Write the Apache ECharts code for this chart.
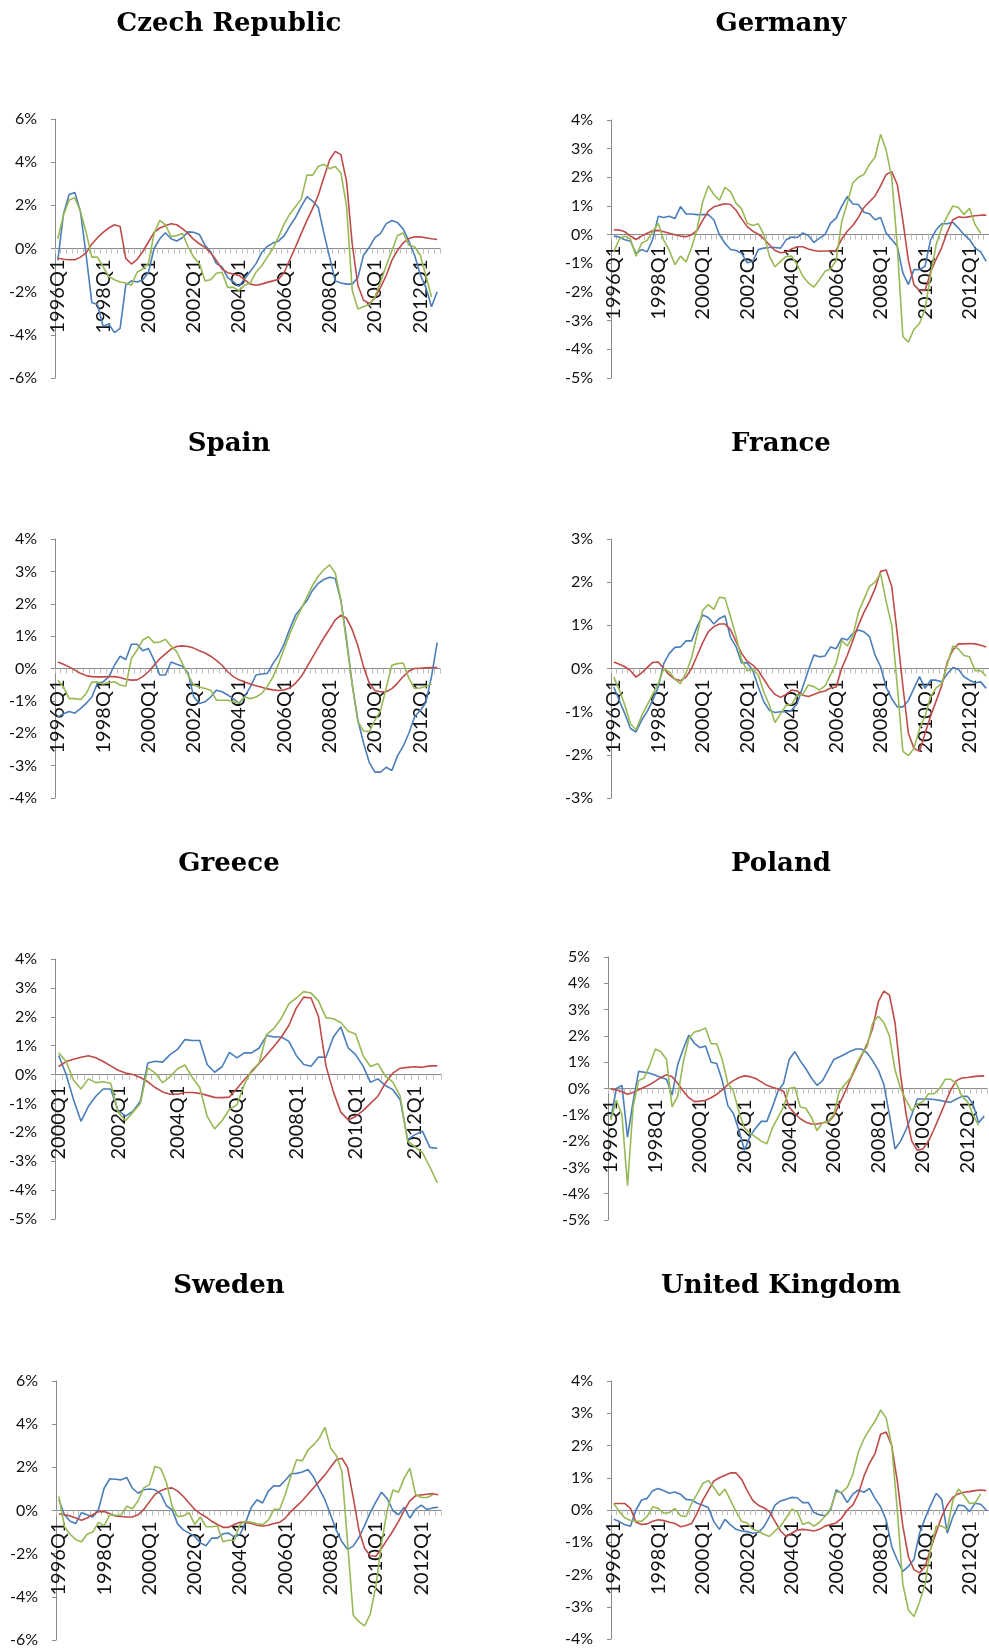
<!DOCTYPE html>
<html>
<head>
<meta charset="utf-8">
<script src="https://cdn.jsdelivr.net/npm/echarts@6/dist/echarts.min.js"></script>
<style>
  html, body { margin: 0; padding: 0; background: #ffffff; }
  #chart { width: 989px; height: 1652px; }
</style>
</head>
<body>
<div id="chart"></div>
<script>
// Quarterly gaps, in percent, three measures per country.
const countries = ['Czech Republic', 'Germany', 'Spain', 'France', 'Greece', 'Poland', 'Sweden', 'United Kingdom'];
const startYears = [1996, 1996, 1996, 1996, 2000, 1996, 1996, 1996];
const quarterCounts = [68, 68, 68, 68, 52, 68, 68, 68];

// y-axis ranges: [min, max, step]
const yRanges = [[-6, 6, 2], [-5, 4, 1], [-4, 4, 1], [-3, 3, 1], [-5, 4, 1], [-5, 5, 1], [-6, 6, 2], [-4, 4, 1]];

const czBlue = [-0.55,1.6,2.5,2.6,1.7,-0.3,-2.5,-2.6,-3.6,-3.5,
  -3.9,-3.7,-1.7,-1.5,-1.55,-1.45,-1.1,0.0,0.45,0.73,
  0.45,0.35,0.5,0.77,0.75,0.65,0.15,-0.15,-0.7,-0.85,
  -1.35,-1.55,-1.75,-1.4,-1.05,-0.7,-0.2,0.1,0.25,0.35,
  0.6,1.05,1.45,1.95,2.4,2.2,1.9,0.7,-0.4,-1.5,
  -1.6,-1.65,-1.65,-1.35,-0.3,0.05,0.5,0.7,1.15,1.3,
  1.2,0.9,0.35,-0.3,-1.2,-1.8,-2.7,-2.0];
const czRed = [-0.45,-0.5,-0.52,-0.52,-0.4,-0.2,0.2,0.5,0.75,0.95,
  1.1,1.02,-0.46,-0.72,-0.5,-0.15,0.3,0.75,0.95,1.05,
  1.15,1.1,0.92,0.7,0.42,0.22,0.05,-0.2,-0.55,-0.95,
  -1.12,-1.18,-1.25,-1.45,-1.65,-1.7,-1.65,-1.57,-1.5,-1.42,
  -1.1,-0.5,0.08,0.7,1.3,1.85,2.47,3.3,4.1,4.5,
  4.35,3.1,0.2,-1.7,-2.4,-2.55,-2.3,-1.8,-1.25,-0.55,
  -0.08,0.26,0.46,0.54,0.54,0.5,0.45,0.42];
const czGreen = [0.45,1.55,2.25,2.35,1.7,0.75,-0.4,-0.4,-0.85,-1.3,
  -1.45,-1.55,-1.6,-1.7,-1.1,-0.95,-0.7,0.7,1.3,1.1,
  0.55,0.6,0.7,0.08,-0.4,-0.7,-1.5,-1.45,-1.15,-1.1,
  -1.8,-1.8,-1.95,-1.7,-1.6,-1.1,-0.8,-0.4,0.0,0.55,
  1.15,1.6,1.95,2.3,3.4,3.4,3.8,3.9,3.7,3.8,
  3.5,1.95,-1.95,-2.8,-2.7,-2.6,-2.25,-1.55,-0.8,-0.1,
  0.6,0.72,0.15,0.08,-0.3,-1.25,-2.25,null];

const deBlue = [-0.05,-0.08,-0.18,-0.23,-0.65,-0.52,-0.6,-0.17,0.64,0.6,
  0.64,0.56,0.98,0.72,0.72,0.7,0.7,0.7,0.52,0.0,
  -0.3,-0.52,-0.55,-0.65,-0.98,-0.93,-0.52,-0.47,-0.45,-0.45,
  -0.47,-0.18,-0.08,-0.1,0.06,-0.03,-0.27,-0.12,0.0,0.4,
  0.58,0.99,1.33,1.07,1.05,0.78,0.73,0.52,0.6,0.06,
  -0.17,-0.4,-1.33,-1.74,-1.22,-1.22,-1.1,-0.17,0.17,0.38,
  0.38,0.43,0.23,0.0,-0.17,-0.47,-0.6,-0.93];
const deRed = [0.17,0.16,0.1,-0.05,-0.17,-0.05,0.05,0.14,0.15,0.1,
  0.05,0.0,-0.05,-0.07,0.0,0.15,0.5,0.82,0.97,1.03,
  1.08,1.05,0.85,0.55,0.28,0.12,0.02,-0.15,-0.35,-0.55,
  -0.63,-0.6,-0.5,-0.42,-0.42,-0.5,-0.55,-0.58,-0.57,-0.57,
  -0.55,-0.15,0.12,0.32,0.6,0.95,1.15,1.35,1.7,2.1,
  2.2,1.75,0.5,-0.9,-1.75,-1.95,-1.95,-1.3,-0.85,-0.45,
  0.1,0.52,0.62,0.6,0.63,0.66,0.68,0.68];
const deGreen = [-0.6,-0.15,-0.05,-0.15,-0.75,-0.3,-0.2,0.1,0.4,-0.2,
  -0.55,-1.05,-0.75,-0.95,-0.45,0.2,1.15,1.7,1.4,1.2,
  1.65,1.5,1.1,0.9,0.4,0.32,0.38,0.0,-0.75,-1.12,
  -0.93,-0.76,-0.75,-1.05,-1.45,-1.68,-1.83,-1.57,-1.28,-1.2,
  -0.9,0.45,1.1,1.8,2.0,2.1,2.45,2.7,3.5,2.95,
  2.0,-0.4,-3.55,-3.75,-3.3,-3.1,-2.6,-1.4,-0.35,0.25,
  0.65,1.0,0.95,0.7,0.92,0.35,0.05,null];

const esBlue = [-1.5,-1.4,-1.33,-1.38,-1.24,-1.08,-0.88,-0.46,-0.41,-0.26,
  0.1,0.38,0.28,0.75,0.75,0.55,0.62,0.26,-0.2,-0.2,
  0.2,0.13,0.07,-0.13,-0.87,-1.08,-1.03,-0.88,-0.67,-0.72,
  -0.82,-0.93,-1.08,-0.87,-0.57,-0.2,-0.17,-0.15,0.15,0.41,
  0.77,1.24,1.65,1.88,2.1,2.42,2.63,2.75,2.82,2.78,
  2.1,0.9,-0.5,-1.6,-2.3,-2.9,-3.2,-3.2,-3.05,-3.15,
  -2.7,-2.4,-2.0,-1.5,-1.3,-1.05,-0.25,0.8];
const esRed = [0.2,0.13,0.05,-0.05,-0.15,-0.22,-0.25,-0.26,-0.26,-0.25,
  -0.25,-0.28,-0.33,-0.36,-0.35,-0.25,-0.1,0.1,0.3,0.45,
  0.6,0.68,0.7,0.68,0.63,0.55,0.48,0.38,0.25,0.1,
  -0.1,-0.25,-0.35,-0.42,-0.48,-0.53,-0.58,-0.63,-0.66,-0.68,
  -0.66,-0.6,-0.45,-0.25,0.05,0.35,0.65,0.95,1.22,1.5,
  1.65,1.55,1.2,0.7,0.05,-0.45,-0.68,-0.72,-0.72,-0.62,
  -0.45,-0.25,-0.08,0.0,0.01,0.02,0.03,0.03];
const esGreen = [-0.36,-0.57,-0.93,-0.93,-0.96,-0.78,-0.42,-0.42,-0.48,-0.43,
  -0.41,-0.51,-0.55,0.31,0.57,0.88,0.98,0.8,0.82,0.9,
  0.69,0.52,0.15,-0.2,-0.51,-0.57,-0.62,-0.67,-0.98,-0.98,
  -0.98,-1.03,-1.06,-0.88,-0.93,-0.88,-0.77,-0.55,-0.26,0.15,
  0.62,1.08,1.49,1.85,2.21,2.57,2.85,3.05,3.2,2.95,
  2.1,0.8,-0.5,-1.65,-1.93,-1.95,-1.6,-1.3,-0.6,0.1,
  0.15,0.17,-0.3,-0.62,-0.6,-0.55,-0.48,null];

const frBlue = [-0.43,-0.74,-1.05,-1.39,-1.47,-1.2,-1.0,-0.74,-0.43,0.12,
  0.35,0.49,0.5,0.64,0.64,0.97,1.24,1.18,1.03,1.16,
  1.22,0.72,0.5,0.13,0.13,-0.04,-0.43,-0.77,-0.97,-1.02,
  -1.0,-1.0,-0.97,-0.81,-0.43,-0.04,0.31,0.27,0.29,0.5,
  0.46,0.7,0.66,0.81,0.89,0.85,0.74,0.31,0.04,-0.43,
  -0.7,-0.89,-0.89,-0.74,-0.46,-0.19,-0.46,-0.27,-0.27,-0.31,
  -0.12,0.02,-0.02,-0.19,-0.27,-0.33,-0.31,-0.46];
const frRed = [0.15,0.1,0.04,-0.05,-0.2,-0.1,0.02,0.14,0.15,0.0,
  -0.15,-0.25,-0.28,-0.2,0.0,0.3,0.6,0.85,0.97,1.03,
  1.03,0.9,0.62,0.35,0.17,0.08,-0.05,-0.25,-0.45,-0.6,
  -0.67,-0.6,-0.5,-0.52,-0.62,-0.65,-0.6,-0.55,-0.52,-0.45,
  -0.43,0.0,0.3,0.65,1.0,1.3,1.55,1.85,2.25,2.28,
  1.9,0.8,-0.4,-1.5,-1.85,-1.92,-1.5,-1.1,-0.75,-0.4,
  0.15,0.43,0.57,0.57,0.58,0.57,0.54,0.5];
const frGreen = [-0.2,-0.5,-0.85,-1.28,-1.42,-1.1,-0.85,-0.6,-0.35,0.0,
  -0.08,-0.25,-0.35,-0.1,0.25,0.8,1.35,1.48,1.37,1.65,
  1.63,1.2,0.75,0.2,-0.05,-0.02,-0.15,-0.55,-0.85,-1.25,
  -1.05,-0.85,-0.83,-0.62,-0.6,-0.38,-0.42,-0.5,-0.4,-0.15,
  0.12,0.65,0.52,0.75,1.3,1.6,1.9,2.0,2.2,1.55,
  1.0,-0.4,-1.92,-2.02,-1.85,-1.4,-1.1,-0.65,-0.45,-0.35,
  0.1,0.52,0.45,0.3,0.27,-0.05,-0.05,-0.18];

const grBlue = [0.66,0.0,-0.87,-1.62,-1.1,-0.75,-0.5,-0.5,-1.25,-1.44,
  -1.27,-0.92,0.4,0.46,0.43,0.69,0.87,1.21,1.18,1.18,
  0.35,0.08,0.27,0.77,0.58,0.75,0.75,0.92,1.35,1.3,
  1.3,1.15,0.66,0.35,0.29,0.61,0.6,1.3,1.65,0.92,
  0.69,0.29,-0.27,-0.15,-0.38,-0.52,-0.87,-2.25,-2.08,-1.96,
  -2.52,-2.55];
const grRed = [0.28,0.45,0.53,0.6,0.65,0.58,0.45,0.3,0.15,0.05,
  0.0,-0.1,-0.25,-0.45,-0.6,-0.68,-0.68,-0.62,-0.62,-0.65,
  -0.72,-0.79,-0.8,-0.78,-0.48,-0.18,0.1,0.38,0.68,0.98,
  1.3,1.7,2.3,2.68,2.65,2.0,0.3,-0.6,-1.3,-1.57,
  -1.45,-1.25,-1.0,-0.75,-0.3,0.05,0.22,0.25,0.27,0.25,
  0.3,0.3];
const grGreen = [0.75,0.45,-0.2,-0.5,-0.15,-0.28,-0.25,-0.3,-1.3,-1.6,
  -1.3,-1.0,0.23,0.05,-0.28,-0.08,0.2,0.33,-0.1,-0.45,
  -1.45,-1.88,-1.6,-1.2,-1.05,-0.35,0.15,0.4,1.38,1.6,
  1.95,2.45,2.65,2.87,2.82,2.55,1.97,1.93,1.8,1.5,
  1.4,0.65,0.28,0.38,-0.05,-0.25,-0.75,-2.3,-2.5,-2.7,
  -3.2,-3.75];

const plBlue = [-1.15,0.0,0.12,-1.85,-0.5,0.65,0.62,0.58,0.5,0.42,
  0.35,-0.25,0.9,1.5,2.03,1.72,1.55,1.62,1.0,0.95,
  0.3,-0.65,-0.95,-1.6,-2.35,-1.8,-1.5,-1.25,-1.25,-0.7,
  -0.1,0.2,1.1,1.4,1.05,0.75,0.4,0.12,0.3,0.7,
  1.1,1.2,1.3,1.42,1.5,1.5,1.35,1.05,0.7,0.15,
  -1.0,-2.3,-2.0,-1.55,-1.0,-0.4,-0.4,-0.4,-0.42,-0.45,
  -0.5,-0.52,-0.4,-0.3,-0.3,-0.6,-1.3,-1.05];
const plRed = [-0.03,-0.05,-0.12,-0.22,-0.15,-0.05,0.05,0.15,0.28,0.42,
  0.52,0.45,0.2,-0.1,-0.35,-0.5,-0.48,-0.45,-0.35,-0.22,
  -0.05,0.15,0.3,0.42,0.48,0.45,0.38,0.25,0.12,0.05,
  -0.02,-0.1,-0.7,-0.95,-1.15,-1.28,-1.35,-1.35,-1.3,-1.28,
  -1.05,-0.6,-0.15,0.35,0.8,1.25,1.7,2.3,3.3,3.7,
  3.55,2.5,0.5,-1.0,-2.0,-2.35,-2.3,-2.0,-1.55,-1.05,
  -0.55,-0.05,0.3,0.4,0.42,0.45,0.47,0.48];
const plGreen = [-1.2,-0.45,-1.0,-3.7,-0.7,0.3,0.4,0.9,1.5,1.4,
  1.1,-0.7,-0.3,1.0,1.9,2.15,2.2,2.3,1.7,1.7,
  1.1,0.2,-0.1,-0.9,-1.5,-1.7,-1.85,-2.0,-2.1,-1.5,
  -1.1,-0.7,0.0,0.05,-0.7,-0.75,-1.1,-1.6,-1.3,-1.25,
  -1.0,-0.1,0.15,0.4,0.9,1.3,1.6,2.5,2.75,2.5,
  2.0,0.7,0.0,-0.45,-0.85,-0.6,-0.5,-0.2,-0.2,0.0,
  0.35,0.35,0.2,-0.3,-0.5,-1.0,-1.4,null];

const seBlue = [0.5,-0.2,-0.5,-0.6,-0.1,-0.2,-0.3,0.05,1.03,1.47,
  1.45,1.42,1.53,1.03,0.8,0.96,1.0,0.96,0.77,0.22,
  0.03,-0.63,-0.9,-1.05,-1.2,-1.5,-1.63,-1.28,-1.28,-1.08,
  -1.05,-1.23,-1.1,-0.55,0.15,0.5,0.35,0.9,1.15,1.13,
  1.4,1.7,1.72,1.78,1.9,1.55,1.0,0.5,-0.2,-0.9,
  -1.45,-1.8,-1.65,-1.25,-0.7,-0.1,0.4,0.85,0.55,0.0,
  -0.2,0.15,-0.35,0.05,0.25,0.05,0.12,0.15];
const seRed = [-0.15,-0.2,-0.25,-0.35,-0.45,-0.35,-0.2,-0.05,-0.05,-0.15,
  -0.25,-0.28,-0.3,-0.3,-0.2,0.05,0.4,0.75,0.92,1.02,
  1.05,0.9,0.65,0.35,0.05,-0.15,-0.3,-0.5,-0.65,-0.78,
  -0.78,-0.65,-0.55,-0.55,-0.6,-0.68,-0.72,-0.68,-0.6,-0.55,
  -0.35,-0.05,0.2,0.45,0.75,1.05,1.35,1.65,2.0,2.35,
  2.42,2.0,0.6,-0.9,-1.75,-2.1,-2.12,-1.75,-1.35,-0.95,
  -0.5,0.0,0.45,0.68,0.72,0.75,0.78,0.73];
const seGreen = [0.65,-0.75,-1.1,-1.35,-1.45,-1.1,-1.0,-0.55,-0.7,-0.2,
  -0.22,-0.22,0.2,0.08,0.45,1.05,1.2,2.05,1.95,1.3,
  0.2,-0.28,-0.25,-0.1,-0.65,-0.3,-0.75,-0.75,-0.72,-1.45,
  -1.38,-1.38,-0.65,-0.5,-0.55,-0.62,-0.65,-0.45,0.05,0.05,
  0.75,1.6,2.35,2.3,2.8,3.05,3.35,3.85,2.9,2.55,
  1.8,-1.5,-4.85,-5.15,-5.35,-4.8,-3.5,-1.5,0.0,0.95,
  0.85,1.5,1.95,0.75,0.6,0.6,0.72,null];

const ukBlue = [-0.29,-0.36,-0.46,-0.5,0.0,0.31,0.36,0.6,0.67,0.6,
  0.52,0.56,0.49,0.33,0.31,0.21,0.15,0.08,-0.36,-0.6,
  -0.29,-0.46,-0.6,-0.65,-0.67,-0.72,-0.7,-0.52,-0.21,0.15,
  0.28,0.33,0.39,0.38,0.23,0.23,-0.08,-0.15,-0.18,0.0,
  0.62,0.52,0.23,0.49,0.62,0.55,0.67,0.36,0.1,-0.31,
  -1.13,-1.55,-1.9,-1.75,-1.53,-0.72,-0.26,0.15,0.52,0.33,
  -0.72,-0.21,0.15,0.13,-0.05,0.21,0.18,0.0];
const ukRed = [0.2,0.2,0.2,0.05,-0.38,-0.45,-0.43,-0.35,-0.3,-0.33,
  -0.38,-0.42,-0.52,-0.48,-0.42,-0.1,0.3,0.6,0.9,1.0,
  1.08,1.15,1.15,0.95,0.6,0.3,0.15,0.07,-0.05,-0.35,
  -0.65,-0.82,-0.72,-0.62,-0.6,-0.62,-0.65,-0.6,-0.5,-0.45,
  -0.4,-0.25,0.0,0.15,0.5,1.05,1.45,1.75,2.35,2.42,
  2.0,0.9,-0.5,-1.45,-1.85,-1.95,-1.75,-1.2,-0.7,-0.2,
  0.15,0.4,0.5,0.55,0.57,0.6,0.62,0.6];
const ukGreen = [0.2,-0.05,-0.25,-0.32,-0.35,-0.35,-0.2,0.1,0.05,-0.1,
  -0.08,0.05,-0.18,-0.2,0.2,0.5,0.82,0.92,0.7,0.45,
  0.65,0.3,-0.05,-0.35,-0.4,-0.6,-0.65,-0.75,-0.82,-0.65,
  -0.5,-0.25,0.02,-0.05,-0.45,-0.38,-0.5,-0.38,-0.2,0.05,
  0.55,0.55,0.7,1.1,1.8,2.2,2.5,2.75,3.1,2.85,
  2.0,0.0,-2.3,-3.1,-3.3,-2.85,-2.3,-1.2,-0.5,-0.5,
  -0.6,0.3,0.65,0.45,0.2,0.22,0.5,null];

const blueSeries = [czBlue, deBlue, esBlue, frBlue, grBlue, plBlue, seBlue, ukBlue];
const redSeries = [czRed, deRed, esRed, frRed, grRed, plRed, seRed, ukRed];
const greenSeries = [czGreen, deGreen, esGreen, frGreen, grGreen, plGreen, seGreen, ukGreen];

// Quarter labels such as "1996Q1"
function quarterLabels(startYear, count) {
  const out = [];
  for (let i = 0; i < count; i++) {
    out.push((startYear + Math.floor(i / 4)) + 'Q' + (i % 4 + 1));
  }
  return out;
}

// Plot boxes (px) and title centres for the 2x4 layout
const boxes = [
  { left: 55,  top: 119,  width: 385, height: 259, tx: 229, ty: 24 },
  { left: 611, top: 120,  width: 384, height: 258, tx: 781, ty: 24 },
  { left: 55,  top: 539,  width: 385, height: 259, tx: 229, ty: 444 },
  { left: 611, top: 539,  width: 384, height: 259, tx: 781, ty: 444 },
  { left: 55,  top: 959,  width: 386, height: 260, tx: 229, ty: 864 },
  { left: 608, top: 957,  width: 379, height: 263, tx: 781, ty: 864 },
  { left: 56,  top: 1381, width: 385, height: 259, tx: 229, ty: 1286 },
  { left: 611, top: 1381, width: 384, height: 258, tx: 781, ty: 1286 }
];

const COLORS = { blue: '#4A7EBB', red: '#BE4B48', green: '#98B954' };
const AXIS_GREY = '#8a8a8a';
const Y_FONT = { fontFamily: 'Lato', fontSize: 16, color: '#111111' };
const X_FONT = { fontFamily: 'Lato', fontSize: 20, color: '#111111' };

const title = [], grid = [], xAxis = [], yAxis = [], series = [];

countries.forEach((name, p) => {
  const b = boxes[p];
  const r = yRanges[p];
  // the category axis sits on the 0% line: lift it from the grid bottom
  const zeroLift = b.height * (0 - r[0]) / (r[1] - r[0]);
  title.push({
    text: name,
    left: b.tx, top: b.ty,
    textAlign: 'center', textVerticalAlign: 'middle',
    padding: 0,
    textStyle: { fontFamily: 'DejaVu Serif', fontWeight: 'bold', fontSize: 26, color: '#000000' }
  });
  grid.push({ left: b.left, top: b.top, width: b.width, height: b.height, containLabel: false });
  xAxis.push({
    type: 'category', gridIndex: p, position: 'bottom',
    offset: -zeroLift,
    data: quarterLabels(startYears[p], quarterCounts[p]),
    boundaryGap: true,
    axisLine: { onZero: false, lineStyle: { color: AXIS_GREY, width: 1 } },
    axisTick: { show: true, interval: 0, length: 5, lineStyle: { color: '#bdbdbd', width: 1 } },
    axisLabel: Object.assign({ interval: 7, rotate: 90, margin: 11 }, X_FONT),
    splitLine: { show: false }
  });
  yAxis.push({
    type: 'value', gridIndex: p,
    min: r[0], max: r[1], interval: r[2],
    axisLine: { show: true, lineStyle: { color: AXIS_GREY, width: 1 } },
    axisTick: { show: true, length: 4, lineStyle: { color: AXIS_GREY } },
    axisLabel: Object.assign({ formatter: '{value}%', margin: 18 }, Y_FONT),
    splitLine: { show: false }
  });
  [['blue', blueSeries], ['red', redSeries], ['green', greenSeries]].forEach(([key, arr]) => {
    series.push({
      type: 'line', xAxisIndex: p, yAxisIndex: p,
      data: arr[p],
      showSymbol: false, symbol: 'none',
      connectNulls: false,
      lineStyle: { color: COLORS[key], width: 1.6 },
      itemStyle: { color: COLORS[key] },
      emphasis: { disabled: true }
    });
  });
});

const chart = echarts.init(document.getElementById('chart'), null, { renderer: 'canvas' });
chart.setOption({
  backgroundColor: '#ffffff',
  animation: false,
  title, grid, xAxis, yAxis, series
});
</script>
</body>
</html>
